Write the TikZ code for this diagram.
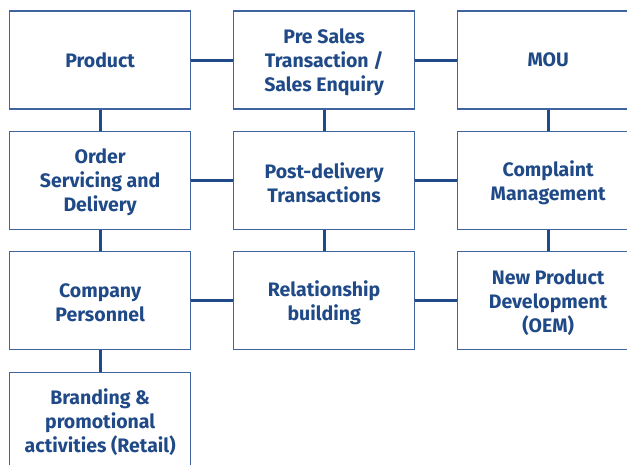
\documentclass[tikz,border=0pt]{standalone}
\usepackage{fontspec}
\setmainfont{Fira Sans}[UprightFont=* SemiBold, BoldFont=* Bold]
\definecolor{txtblue}{HTML}{1F4A87}
\definecolor{boxblue}{HTML}{40649E}
\definecolor{lineblue}{HTML}{1F4A87}
\begin{document}
\begin{tikzpicture}[x=1bp,y=-1bp,
  boxnode/.style={draw=boxblue, line width=1.3bp, fill=white, minimum width=181bp, minimum height=98bp,
    inner sep=0pt, anchor=north west},
  boxtext/.style={label={[align=center, text=txtblue, font=\fontsize{19.5bp}{24bp}\selectfont\bfseries, yshift=-2bp]center:#1}},
  boxtextone/.style={label={[align=center, text=txtblue, font=\fontsize{19.5bp}{24bp}\selectfont\bfseries, yshift=0bp]center:#1}},
  conn/.style={draw=lineblue, line width=2.8bp}]
\useasboundingbox (0,0) rectangle (627,465);
\clip (0,0) rectangle (627,465);
\node[boxnode, boxtextone={Product}] (prod) at (9,10.5) {};
\node[boxnode, boxtext={Pre Sales\\Transaction /\\Sales Enquiry}] (pre) at (233,10.5) {};
\node[boxnode, boxtextone={MOU}] (mou) at (457,10.5) {};
\node[boxnode, boxtext={Order\\Servicing and\\Delivery}] (order) at (9,131) {};
\node[boxnode, boxtext={Post-delivery\\Transactions}] (post) at (233,131) {};
\node[boxnode, boxtext={Complaint\\Management}] (comp) at (457,131) {};
\node[boxnode, boxtext={Company\\Personnel}] (pers) at (9,251) {};
\node[boxnode, boxtext={Relationship\\building}] (rel) at (233,251) {};
\node[boxnode, boxtext={New Product\\Development\\(OEM)}] (npd) at (457,251) {};
\node[boxnode, minimum height=95bp, boxtext={Branding \&\\promotional\\activities (Retail)}] (brand) at (9,371.5) {};
\draw[conn] (prod) -- (pre);
\draw[conn] (pre) -- (mou);
\draw[conn] (order) -- (post);
\draw[conn] (post) -- (comp);
\draw[conn] (pers) -- (rel);
\draw[conn] (rel) -- (npd);
\draw[conn] (prod) -- (order);
\draw[conn] (order) -- (pers);
\draw[conn] (pers) -- (brand);
\draw[conn] (pre) -- (post);
\draw[conn] (post) -- (rel);
\draw[conn] (mou) -- (comp);
\draw[conn] (comp) -- (npd);
\end{tikzpicture}
\end{document}
